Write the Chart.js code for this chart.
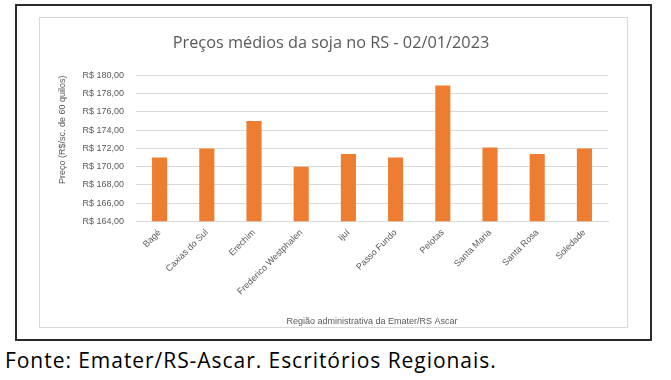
<!DOCTYPE html>
<html>
<head>
<meta charset="utf-8">
<script src="https://cdn.jsdelivr.net/npm/chart.js@4/dist/chart.umd.min.js"></script>
<style>
  body { margin: 0; background: #fff; }
  #page { position: relative; width: 671px; height: 380px; }
  #frame { position: absolute; left: 15px; top: 4px; width: 637px; height: 337px; border: 2px solid #2b2b2b; box-sizing: border-box; }
  #box { position: absolute; left: 39px; top: 17px; width: 589px; height: 311px; border: 1px solid #d9d9d9; box-sizing: border-box; }
  #box canvas { position: absolute; left: 0; top: 0; }
  #fonte { position: absolute; left: 5px; top: 346px; font-family: "Open Sans", sans-serif; font-size: 21px; letter-spacing: 0.95px; color: #000; white-space: nowrap; }
</style>
</head>
<body>
<div id="page">
  <div id="frame"></div>
  <div id="box"><canvas id="chart" width="587" height="309"></canvas></div>
  <div id="fonte">Fonte: Emater/RS-Ascar. Escritórios Regionais.</div>
</div>
<script>
// Regiões e preços médios (R$/sc. de 60 kg)
const regioes = ['Bagé', 'Caxias do Sul', 'Erechim', 'Frederico Westphalen', 'Ijuí',
  'Passo Fundo', 'Pelotas', 'Santa Maria', 'Santa Rosa', 'Soledade'];
const precos = [171.0, 172.0, 175.0, 170.0, 171.4, 171.0, 178.9, 172.1, 171.4, 172.0];
const yMin = 164;
const yMax = 180;
const yStep = 2;

const grey = '#595959';
const smallFont = { family: 'Liberation Sans', size: 9 };

// o título do Excel fica centrado na caixa toda, não só até o padding direito
const titleShift = {
  id: 'titleShift',
  afterLayout(chart) {
    chart.titleBlock.left += 7;
    chart.titleBlock.right += 7;
  }
};

new Chart(document.getElementById('chart'), {
  type: 'bar',
  data: {
    labels: regioes,
    datasets: [{
      data: precos,
      backgroundColor: '#ED7D31',
      barPercentage: 0.32,
      categoryPercentage: 1
    }]
  },
  options: {
    responsive: false,
    animation: false,
    layout: { padding: { left: 0, right: 19, top: 0, bottom: 0 } },
    plugins: {
      legend: { display: false },
      tooltip: { enabled: false },
      title: {
        display: true,
        text: 'Preços médios da soja no RS - 02/01/2023',
        color: grey,
        font: { family: 'Open Sans', size: 16.3, weight: 'normal', lineHeight: 1.2 },
        padding: { top: 16, bottom: 22 }
      }
    },
    scales: {
      y: {
        min: yMin,
        max: yMax,
        afterFit: s => { s.width = 96; },
        ticks: {
          stepSize: yStep,
          color: grey,
          font: smallFont,
          padding: 12,
          callback: v => 'R$ ' + v.toFixed(2).replace('.', ',')
        },
        grid: { color: '#d9d9d9', lineWidth: 1, drawTicks: false },
        border: { display: false },
        title: {
          display: true,
          text: 'Preço (R$/sc. de 60 quilos)',
          color: grey,
          font: smallFont,
          align: 'end',
          padding: { top: 17.5 }
        }
      },
      x: {
        afterFit: s => { s.height = 105.7; },
        ticks: {
          color: grey,
          font: smallFont,
          minRotation: 45,
          maxRotation: 45,
          autoSkip: false,
          padding: 6
        },
        grid: { display: false, drawTicks: false },
        border: { display: true, color: '#d9d9d9' },
        title: {
          display: true,
          text: 'Região administrativa da Emater/RS Ascar',
          color: grey,
          font: smallFont,
          padding: { bottom: 0 }
        }
      }
    }
  },
  plugins: [titleShift]
});
</script>
</body>
</html>
